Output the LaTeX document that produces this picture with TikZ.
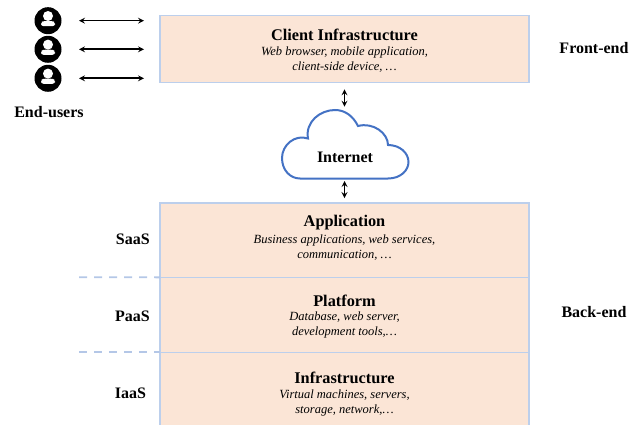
\documentclass[tikz,border=0pt]{standalone}
\usepackage{fontspec}
\setmainfont{Liberation Serif}
\usetikzlibrary{arrows}

\definecolor{boxfill}{HTML}{FBE5D6}
\definecolor{boxedge}{HTML}{BCCFEC}
\definecolor{cloudedge}{HTML}{4472C4}
\definecolor{dashblue}{HTML}{B4C7E7}

\tikzset{
    layerbox/.style={draw=boxedge,fill=boxfill,line width=1.3pt,minimum width=369pt,inner sep=0pt,outer sep=0pt},
    layertext/.style={align=center,font=\fontsize{12.5}{15}\selectfont\itshape,inner sep=0pt},
    layertitle/.style={font=\fontsize{16.3}{18}\selectfont\bfseries,inner sep=0pt},
    sidelabel/.style={font=\fontsize{16}{18}\selectfont\bfseries,inner sep=0pt},
    usericon/.style={circle,fill=black,minimum size=27pt,inner sep=0pt,outer sep=0pt},
    dashline/.style={dashblue,line width=1.8pt,dash pattern=on 8pt off 7pt}
}

\begin{document}
\begin{tikzpicture}[x=1pt,y=-1pt]
    \useasboundingbox (0,0) rectangle (639,425);
    \node[layerbox,minimum height=67pt] at (344.5,49.2) (client) {};
    \node[layerbox,minimum height=74.3pt] at (344.5,240.2) (application) {};
    \node[layerbox,minimum height=75pt] at (344.5,314.8) (platform) {};
    \node[layerbox,minimum height=75pt] at (344.5,389.8) (infrastructure) {};

    \node[layertitle] at (344.5,35) (clienttitle) {Client Infrastructure};
    \node[layertext] at (344.5,59.5) (clienttext) {Web browser, mobile application,\\client-side device, \dots};
    \node[layertitle] at (344.5,223) (applicationtitle) {Application};
    \node[layertext] at (344.5,247.5) (applicationtext) {Business applications, web services,\\communication, \dots};
    \node[layertitle] at (344.5,301) (platformtitle) {Platform};
    \node[layertext] at (344.5,324.7) (platformtext) {Database, web server,\\development tools,\dots};
    \node[layertitle] at (344.5,378) (infrastructuretitle) {Infrastructure};
    \node[layertext] at (344.5,402.5) (infrastructuretext) {Virtual machines, servers,\\storage, network,\dots};

    \node[sidelabel] at (594,48) (frontend) {Front-end};
    \node[sidelabel] at (594,312) (backend) {Back-end};
    \node[sidelabel] at (49,112.5) (endusers) {End-users};
    \node[sidelabel] at (132.8,239.5) (saas) {SaaS};
    \node[sidelabel] at (132.5,316) (paas) {PaaS};
    \node[sidelabel] at (130.5,393) (iaas) {IaaS};

    \draw[cloudedge,line width=2pt,fill=white]
    (300,178.5) -- (388,178.5)
    .. controls (401,178.5) and (408.5,170) .. (408.5,162)
    .. controls (408.5,153) and (400,145) .. (388,145)
    .. controls (388,133) and (373,122) .. (358,126)
    .. controls (353,116) and (345,110) .. (335,110)
    .. controls (320,110) and (305,122) .. (308,138.5)
    .. controls (295,134) and (282,145) .. (282,158)
    .. controls (282,170) and (290,178.5) .. (300,178.5) -- cycle;
    \node[sidelabel] at (345,157) (internet) {Internet};
    \coordinate (cloudtop) at (344.5,110);
    \coordinate (cloudbottom) at (344.5,178.5);

    \foreach \i/\y in {1/20.7,2/49.3,3/78.3} {
        \node[usericon] at (48,\y) (user\i) {};
        \fill[white] ([yshift=4.7pt]user\i.center) circle (5pt);
        \fill[white,rounded corners=2.5pt] ([shift={(-7,5.5)}]user\i.center) -- ([shift={(-7,1.5)}]user\i.center)
        -- ([shift={(-4,0.3)}]user\i.center) -- ([shift={(4,0.3)}]user\i.center)
        -- ([shift={(7,1.5)}]user\i.center) -- ([shift={(7,5.5)}]user\i.center) -- cycle;
        \draw[<->,>=stealth,line width=1.6pt,shorten <=17.5pt,shorten >=16pt]
        (user\i.east) -- (user\i.east -| client.west);
    }

    \path[<->,>=stealth,line width=1.6pt]
    (client.south) edge [shorten <=6.6pt,shorten >=3.3pt] (cloudtop)
    (cloudbottom) edge [shorten <=2.5pt,shorten >=5pt] (application.north)
    ;

    \coordinate (dashend1) at (79,277.3);
    \coordinate (dashend2) at (79,352.3);
    \draw[dashline] (dashend1) -- (application.south west);
    \draw[dashline] (dashend2) -- (platform.south west);
\end{tikzpicture}
\end{document}
